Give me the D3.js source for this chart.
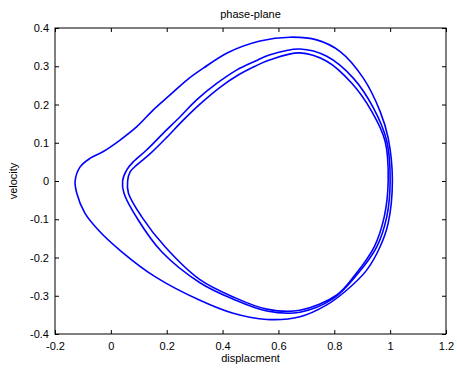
<!DOCTYPE html>
<html>
<head>
<meta charset="utf-8">
<script src="https://cdn.jsdelivr.net/npm/d3@7"></script>
<style>
  body { margin: 0; background: #fff; }
  svg text { font-family: "Liberation Sans", Arial, sans-serif; fill: #000; }
</style>
</head>
<body>
<script>
// Ejes
const xTicks = [-0.2, 0, 0.2, 0.4, 0.6, 0.8, 1, 1.2];
const yTicks = [-0.4, -0.3, -0.2, -0.1, 0, 0.1, 0.2, 0.3, 0.4];

// Ciclo exterior
const outerX = [-0.128, -0.11, -0.075, -0.027, 0.033, 0.093, 0.152, 0.212, 0.272, 0.331, 0.42, 0.534, 0.641, 0.737, 0.82, 0.904, 0.964, 0.993, 1.008,
                0.993, 0.964, 0.916, 0.845, 0.773, 0.677, 0.558, 0.438, 0.319, 0.158, 0.039, -0.045, -0.093, -0.122];
const outerY = [0.0, 0.037, 0.059, 0.077, 0.107, 0.142, 0.186, 0.225, 0.264, 0.295, 0.336, 0.366, 0.376, 0.369, 0.339, 0.269, 0.182, 0.112, 0.0,
                -0.11, -0.172, -0.233, -0.285, -0.324, -0.355, -0.362, -0.346, -0.312, -0.25, -0.185, -0.128, -0.084, -0.032];

// Ciclo interior A
const innerAX = [0.042, 0.057, 0.08, 0.128, 0.188, 0.248, 0.307, 0.379, 0.45, 0.516, 0.57, 0.677, 0.773, 0.868, 0.94, 0.988, 1.0,
                 0.988, 0.952, 0.88, 0.797, 0.677, 0.558, 0.438, 0.319, 0.182, 0.098, 0.047];
const innerAY = [0.0, 0.029, 0.05, 0.081, 0.125, 0.168, 0.212, 0.255, 0.29, 0.313, 0.33, 0.345, 0.326, 0.269, 0.191, 0.104, 0.0,
                 -0.093, -0.172, -0.246, -0.307, -0.343, -0.34, -0.309, -0.266, -0.185, -0.102, -0.032];

// Ciclo interior B
const innerBX = [0.06, 0.069, 0.093, 0.14, 0.2, 0.259, 0.319, 0.391, 0.456, 0.516, 0.57, 0.677, 0.773, 0.862, 0.934, 0.982, 0.993,
                 0.979, 0.943, 0.874, 0.809, 0.677, 0.558, 0.438, 0.319, 0.194, 0.11, 0.063];
const innerBY = [0.0, 0.024, 0.042, 0.071, 0.114, 0.159, 0.201, 0.245, 0.277, 0.3, 0.317, 0.335, 0.313, 0.256, 0.182, 0.104, 0.0,
                 -0.093, -0.172, -0.246, -0.298, -0.338, -0.335, -0.303, -0.258, -0.172, -0.093, -0.032];

const W = 457, H = 370;
const margin = {top: 28, right: 11, bottom: 36, left: 55};
const width = W - margin.left - margin.right;
const height = H - margin.top - margin.bottom;

const x = d3.scaleLinear().domain([-0.2, 1.2]).range([0, width]);
const y = d3.scaleLinear().domain([-0.4, 0.4]).range([height, 0]);

const svg = d3.select("body").append("svg")
    .attr("width", W)
    .attr("height", H);

const g = svg.append("g")
    .attr("transform", "translate(" + margin.left + "," + margin.top + ")");

// Formato de etiquetas estilo matlab
const fmt = function(d) { return d === 0 ? "0" : String(+d.toFixed(1)); };

// Curvas
const linea = d3.line()
    .x(function(d) { return x(d[0]); })
    .y(function(d) { return y(d[1]); })
    .curve(d3.curveCatmullRomClosed.alpha(0.5));

const loops = [
    d3.zip(outerX, outerY),
    d3.zip(innerAX, innerAY),
    d3.zip(innerBX, innerBY)
];

g.selectAll(".loop")
    .data(loops)
    .enter()
    .append("path")
    .attr("class", "loop")
    .attr("d", linea)
    .attr("fill", "none")
    .attr("stroke", "#0000ff")
    .attr("stroke-width", 1.6);

// Ejes con marcas hacia dentro
function estiloEje(sel) {
    sel.select(".domain").remove();
    sel.selectAll("line").attr("stroke", "#000");
    sel.selectAll("text").attr("font-size", "11px").attr("font-family", "Liberation Sans, Arial, sans-serif");
}

g.append("g")
    .attr("transform", "translate(0," + height + ")")
    .call(d3.axisBottom(x).tickValues(xTicks).tickFormat(fmt).tickSizeInner(-4).tickSizeOuter(0).tickPadding(8))
    .call(estiloEje);

g.append("g")
    .call(d3.axisTop(x).tickValues(xTicks).tickFormat("").tickSizeInner(-4).tickSizeOuter(0))
    .call(estiloEje);

g.append("g")
    .call(d3.axisLeft(y).tickValues(yTicks).tickFormat(fmt).tickSizeInner(-4).tickSizeOuter(0).tickPadding(6))
    .call(estiloEje);

g.append("g")
    .attr("transform", "translate(" + width + ",0)")
    .call(d3.axisRight(y).tickValues(yTicks).tickFormat("").tickSizeInner(-4).tickSizeOuter(0))
    .call(estiloEje);

// Caja
g.append("rect")
    .attr("x", 0).attr("y", 0)
    .attr("width", width).attr("height", height)
    .attr("fill", "none")
    .attr("stroke", "#000")
    .attr("stroke-width", 1);

// Títulos
svg.append("text")
    .attr("x", margin.left + width / 2)
    .attr("y", 18)
    .attr("text-anchor", "middle")
    .attr("font-size", "11px")
    .text("phase-plane");

svg.append("text")
    .attr("x", margin.left + width / 2)
    .attr("y", 362)
    .attr("text-anchor", "middle")
    .attr("font-size", "11px")
    .text("displacment");

svg.append("text")
    .attr("transform", "translate(17," + (margin.top + height / 2) + ") rotate(-90)")
    .attr("text-anchor", "middle")
    .attr("font-size", "11px")
    .text("velocity");
</script>
</body>
</html>
